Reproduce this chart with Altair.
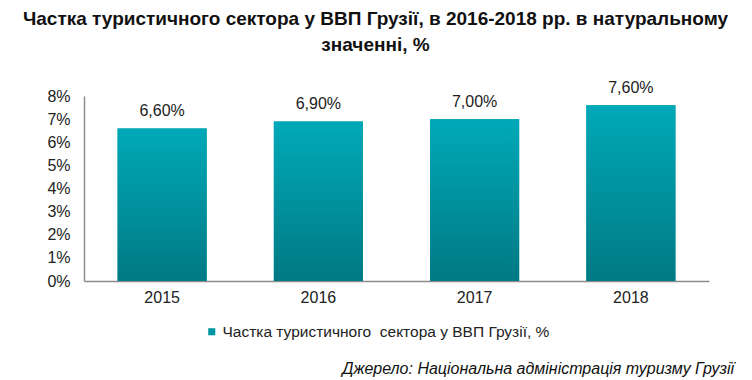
import altair as alt
import pandas as pd

years = ["2015", "2016", "2017", "2018"]
values = [6.6, 6.9, 7.0, 7.6]
labels = ["6,60%", "6,90%", "7,00%", "7,60%"]
series_name = "Частка туристичного\u00a0 сектора у ВВП Грузії, %"

df = pd.DataFrame({"year": years, "value": values, "label": labels, "series": series_name})

grad = alt.LinearGradient(
    gradient="linear",
    stops=[alt.GradientStop(color="#00A9B8", offset=0), alt.GradientStop(color="#007A84", offset=1)],
    x1=0, x2=0, y1=0, y2=1,
)

x = alt.X("year:N", title=None, sort=years,
          scale=alt.Scale(paddingInner=0.43, paddingOuter=0.215),
          axis=alt.Axis(labelAngle=0, labelFontSize=16, labelColor="#222222", labelPadding=8,
                        ticks=False, domainColor="#8C8C8C", domainWidth=1.5, labelFont="Liberation Sans"))
y = alt.Y("value:Q", title=None,
          scale=alt.Scale(domain=[0, 8], nice=False),
          axis=alt.Axis(values=list(range(0, 9)), labelExpr="datum.value + '%'", labelFontSize=16,
                        labelColor="#222222", grid=False, ticks=False, domainColor="#8C8C8C",
                        domainWidth=1.5, labelPadding=14, labelFont="Liberation Sans"))

legend_bars = alt.Chart(df).mark_bar().encode(
    x=x, y=y,
    color=alt.Color("series:N", scale=alt.Scale(range=["#0097A5"]),
                    legend=alt.Legend(title=None, orient="none", legendX=120, legendY=228,
                                      symbolType="square", symbolSize=50, labelFontSize=15.5,
                                      labelFont="Liberation Sans", labelColor="#222222",
                                      labelOffset=3, labelLimit=500)),
)

bars = alt.Chart(df).mark_bar(fill=grad).encode(x=x, y=y)

text = alt.Chart(df).mark_text(dy=-17, fontSize=16, font="Liberation Sans", color="#222222").encode(
    x=x, y=y, text="label:N"
)

source = alt.Chart(pd.DataFrame({"t": ["Джерело: Національна адміністрація туризму Грузії"]})).mark_text(
    align="right", baseline="middle", fontSize=16, fontStyle="italic", font="Liberation Sans", color="#111111"
).encode(x=alt.value(650), y=alt.value(273), text="t:N")

chart = alt.layer(legend_bars, bars, text, source).properties(
    width=625, height=185,
    autosize=alt.AutoSizeParams(type="none"),
    padding={"left": 76, "top": 88, "right": 35, "bottom": 99},
    title=alt.Title(
        ["Частка туристичного сектора у ВВП Грузії, в 2016-2018 рр. в натуральному", "значенні, %"],
        anchor="middle", font="Liberation Sans", fontSize=19, fontWeight="bold",
        color="#111111", lineHeight=26, offset=25, dx=-21,
    ),
).configure_view(stroke=None)

chart.save("out.html", embed_options={"renderer": "svg", "actions": False})
